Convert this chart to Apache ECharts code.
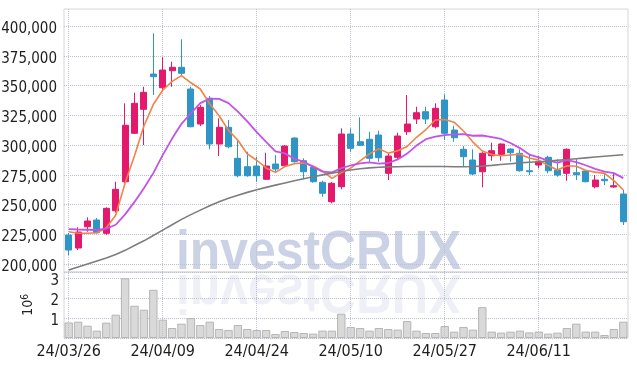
<!DOCTYPE html>
<html>
<head>
<meta charset="utf-8">
<script src="https://cdn.jsdelivr.net/npm/echarts@6/dist/echarts.min.js"></script>
<style>
html,body{margin:0;padding:0;background:#fff;}
#chart{width:637px;height:366px;}
</style>
</head>
<body>
<div id="chart"></div>
<script>
const dates = ['24/03/26','24/03/27','24/03/28','24/03/29','24/04/01','24/04/02','24/04/03','24/04/04','24/04/05','24/04/08',
'24/04/09','24/04/11','24/04/12','24/04/15','24/04/16','24/04/17','24/04/18','24/04/19','24/04/22','24/04/23',
'24/04/24','24/04/25','24/04/26','24/04/29','24/04/30','24/05/02','24/05/03','24/05/07','24/05/08','24/05/09',
'24/05/10','24/05/13','24/05/14','24/05/16','24/05/17','24/05/20','24/05/21','24/05/22','24/05/23','24/05/24',
'24/05/27','24/05/28','24/05/29','24/05/30','24/05/31','24/06/03','24/06/04','24/06/05','24/06/07','24/06/10',
'24/06/11','24/06/12','24/06/13','24/06/14','24/06/17','24/06/18','24/06/19','24/06/20','24/06/21','24/06/24'];

const opens = [224370,213450,231350,236970,225800,244790,269160,309830,330000,359660,
348150,362430,365290,347050,317650,339240,300840,314870,288820,281760,
282350,271180,284030,282600,305880,286800,281260,268650,252350,264960,
309240,302770,304790,308400,276220,289660,311170,321840,327980,315370,
337810,312600,296380,287390,277560,291000,292180,296630,293020,278400,
283190,289660,279000,276220,276720,278150,264960,271180,264700,258820];

const closes = [211760,226890,236130,226300,246800,262770,316550,335040,344280,357390,
363020,365290,360250,315370,331680,300840,314870,298570,274200,274200,
274200,282350,279830,299160,285960,277560,269160,259410,267820,309240,
297220,299750,288820,289330,290750,307560,317650,327140,321840,330840,
309830,306130,290170,275630,293020,295210,300840,293530,278400,277560,
285960,278400,274790,296380,275040,269160,270590,270000,265800,235540];

const lows = [207560,211760,227140,225800,224370,243110,267820,309240,300000,342010,
346210,349000,358820,314870,315960,296380,290750,297220,272860,273360,
269160,270590,276720,281760,285120,271180,268320,256550,251000,262770,
294370,299160,285960,285960,270590,288000,308400,317650,317650,314030,
304200,302770,281760,274790,264450,286800,286800,285960,277560,274790,
280420,276220,273360,270000,270590,268650,263610,266380,264120,232770];

const highs = [226000,230840,239240,238650,247650,269160,335040,343950,349000,393860,
373690,370000,388820,349000,333610,341170,322430,321000,304200,294370,
290170,293530,291600,300000,306470,288820,282350,270000,268900,314030,
314030,323270,311170,312010,293020,310330,342010,332180,332180,335040,
342600,316220,299160,296380,294000,301930,301430,297220,296380,292180,
290750,291010,288000,297220,288000,278600,274790,276720,276220,262180];

const ma5 = [227100,225800,225800,226300,230500,241000,268000,291000,316000,334000,
346000,353500,358300,352300,347100,334700,324600,312300,304000,292500,
287200,280700,277000,281900,284300,285000,282300,278300,272000,276600,
280600,286700,292600,296900,293200,295200,298800,306500,313000,321000,
321500,319200,311800,302500,295000,292000,291000,291600,292200,289100,
287300,282800,279000,282600,282100,278800,277200,276200,270100,262200];

const ma10 = [229400,229000,228800,228600,229800,233000,241700,252200,263700,276400,
291500,305400,317800,326700,335200,339000,338800,335200,328100,319800,
310900,302700,294600,293000,288400,286100,281500,277600,277000,280500,
282800,284500,285400,284400,284900,287900,292800,299500,304900,307100,
308400,309000,309100,307800,308000,306700,305100,301700,297400,292000,
289600,286900,285300,287400,285600,283000,280000,277600,276400,272200];

const ma60 = [195000,197500,200000,202500,205000,208000,211500,215500,219500,224000,
228500,233000,237500,241500,245300,249000,252300,255200,257800,260200,
262400,264400,266300,268100,269900,271600,273300,274900,276400,277800,
279000,280000,280800,281300,281600,281800,281900,282000,282000,282000,
281900,281800,281800,281900,282300,282900,283600,284300,285000,285500,
286000,286600,287200,287800,288500,289200,289900,290600,291200,291800];

const volumes = [780000,820000,620000,370000,770000,1170000,3000000,1620000,1420000,2420000,
920000,500000,720000,1000000,650000,820000,450000,400000,650000,450000,
400000,400000,200000,350000,300000,250000,220000,370000,370000,1220000,
550000,500000,370000,500000,450000,420000,850000,370000,250000,250000,
600000,320000,550000,420000,1550000,320000,270000,320000,370000,280000,
320000,220000,270000,500000,720000,320000,320000,150000,450000,820000];

const priceTicks = [200000,225000,250000,275000,300000,325000,350000,375000,400000];
const dateLabelStep = 10;

const candleData = dates.map((d, i) => [opens[i], closes[i], lows[i], highs[i]]);
const vlineData = dates.filter((d, i) => i % dateLabelStep === 0).map(d => ({ xAxis: d }));

const UP = '#e4196b', DOWN = '#2f95c7';
const GRIDC = '#bcc0d0';
const LBLFONT = '"Liberation Sans Narrow","DejaVu Sans Condensed","Roboto Condensed",sans-serif';

const chart = echarts.init(document.getElementById('chart'), null, { renderer: 'canvas' });
chart.setOption({
  animation: false,
  backgroundColor: '#ffffff',
  grid: [
    { left: 64, right: 9, top: 9, height: 263, show: true, borderColor: '#d6d6d6', borderWidth: 1,
      containLabel: false, outerBoundsMode: 'none' },
    { left: 64, right: 9, top: 272, height: 66, show: true, borderColor: '#d6d6d6', borderWidth: 1,
      containLabel: false, outerBoundsMode: 'none' }
  ],
  xAxis: [
    { type: 'category', gridIndex: 0, data: dates, boundaryGap: true,
      axisLine: { show: false }, axisTick: { show: false }, axisLabel: { show: false }, splitLine: { show: false } },
    { type: 'category', gridIndex: 1, data: dates, boundaryGap: true,
      axisLine: { show: false }, axisTick: { show: false }, splitLine: { show: false },
      axisLabel: { interval: dateLabelStep - 1, fontFamily: LBLFONT, fontSize: 16, color: '#1e1e1e', margin: 6 } }
  ],
  yAxis: [
    { type: 'value', gridIndex: 0, min: 193300, max: 414300, scale: true,
      axisLine: { show: false }, axisTick: { show: false, customValues: priceTicks },
      axisLabel: { customValues: priceTicks, fontFamily: LBLFONT, fontSize: 15, color: '#1e1e1e', margin: 7,
        verticalAlign: 'top', lineHeight: 6,
        formatter: v => v.toLocaleString('en-US') },
      splitLine: { show: true, lineStyle: { color: GRIDC, type: 'dotted', width: 1 } } },
    { type: 'value', gridIndex: 1, min: 0, max: 3315000, interval: 1000000,
      name: '10{s|6}', nameLocation: 'middle', nameRotate: 90, nameGap: 28,
      nameTextStyle: { fontFamily: LBLFONT, fontSize: 14, color: '#222',
        rich: { s: { fontFamily: LBLFONT, fontSize: 10, color: '#222', verticalAlign: 'top', padding: [0, 0, 6, 0] } } },
      axisLine: { show: false }, axisTick: { show: false },
      axisLabel: { showMinLabel: false, fontFamily: LBLFONT, fontSize: 15, color: '#1e1e1e', margin: 5,
        verticalAlign: 'top', lineHeight: 6, formatter: v => String(v / 1000000) },
      splitLine: { show: true, lineStyle: { color: GRIDC, type: 'dotted', width: 1 } } }
  ],
  graphic: [
    { type: 'text', x: 176, y: 226, scaleX: 0.89, z: 0, silent: true,
      style: { text: 'investCRUX', font: 'bold 56px "Liberation Sans", Arial, sans-serif',
        fill: 'rgba(185,193,220,0.72)', verticalAlign: 'top', align: 'left' } },
    { type: 'text', x: 176, y: 272, scaleX: 0.89, scaleY: -1, z: 0, silent: true,
      style: { text: 'investCRUX', x: 0, y: -46, font: 'bold 56px "Liberation Sans", Arial, sans-serif',
        fill: 'rgba(210,214,232,0.36)', verticalAlign: 'top', align: 'left' } }
  ],
  series: [
    { type: 'candlestick', name: 'price', xAxisIndex: 0, yAxisIndex: 0, data: candleData, barWidth: 6.5,
      itemStyle: { color: UP, color0: DOWN, borderColor: UP, borderColor0: DOWN, borderWidth: 1 },
      markLine: { silent: true, symbol: ['none', 'none'], label: { show: false }, z: 1,
        lineStyle: { color: GRIDC, type: 'dotted', width: 1 }, data: vlineData } },
    { type: 'line', name: 'MA5', xAxisIndex: 0, yAxisIndex: 0, data: ma5, symbol: 'none',
      lineStyle: { color: '#ef8446', width: 1.6 }, z: 3 },
    { type: 'line', name: 'MA10', xAxisIndex: 0, yAxisIndex: 0, data: ma10, symbol: 'none',
      lineStyle: { color: '#c452ea', width: 1.8 }, z: 3 },
    { type: 'line', name: 'MA60', xAxisIndex: 0, yAxisIndex: 0, data: ma60, symbol: 'none',
      lineStyle: { color: '#7d7d7d', width: 1.6 }, z: 3 },
    { type: 'bar', name: 'volume', xAxisIndex: 1, yAxisIndex: 1, data: volumes, barWidth: 8.4,
      itemStyle: { color: '#d9d9d9', borderColor: '#b5b5b5', borderWidth: 1 },
      markLine: { silent: true, symbol: ['none', 'none'], label: { show: false },
        lineStyle: { color: GRIDC, type: 'dotted', width: 1 }, data: vlineData } }
  ]
});
</script>
</body>
</html>
